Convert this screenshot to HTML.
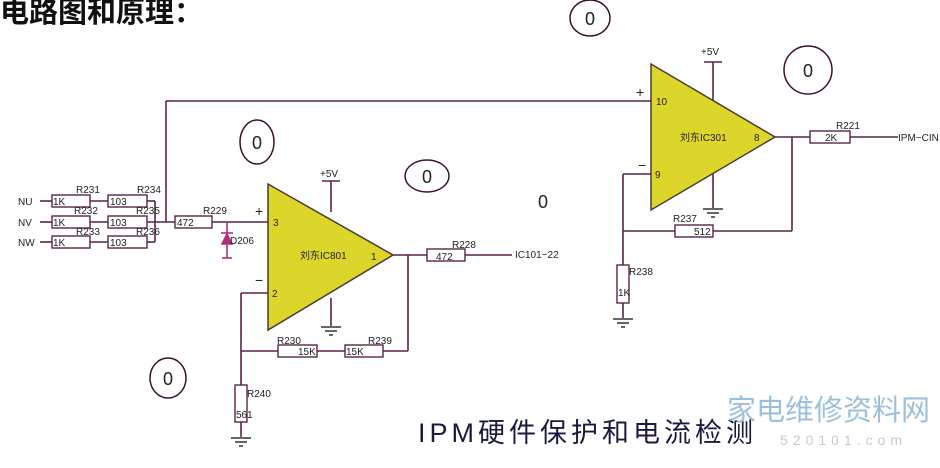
<!DOCTYPE html>
<html><head><meta charset="utf-8"><style>
html,body{margin:0;padding:0;background:#fff;width:940px;height:468px;overflow:hidden}
svg{display:block}
text{font-family:"Liberation Sans","Noto Sans CJK SC",sans-serif}
</style></head><body>
<svg width="940" height="468" viewBox="0 0 940 468" xmlns="http://www.w3.org/2000/svg">
<rect width="940" height="468" fill="#fff"/>
<text x="0" y="22" font-size="29" font-weight="bold" fill="#111" font-family="'Noto Sans CJK SC',sans-serif">电路图和原理：</text>

<g stroke="#5a2448" stroke-width="1.6" fill="none">
<line x1="40" y1="201" x2="52" y2="201"/><line x1="90" y1="201" x2="108" y2="201"/><line x1="147" y1="201" x2="155" y2="201"/>
<line x1="40" y1="222" x2="52" y2="222"/><line x1="90" y1="222" x2="108" y2="222"/><line x1="147" y1="222" x2="175" y2="222"/>
<line x1="40" y1="242" x2="52" y2="242"/><line x1="90" y1="242" x2="108" y2="242"/><line x1="147" y1="242" x2="155" y2="242"/>
<line x1="155" y1="201" x2="155" y2="242"/>
<line x1="166" y1="101" x2="166" y2="222"/>
<line x1="166" y1="101" x2="651" y2="101"/>
<line x1="212" y1="222" x2="268" y2="222"/>
<line x1="331" y1="181" x2="331" y2="212"/><line x1="322" y1="181" x2="340" y2="181"/>
<line x1="331" y1="298" x2="331" y2="326"/>
<line x1="393" y1="255" x2="427" y2="255"/><line x1="465" y1="255" x2="512" y2="255"/>
<line x1="408" y1="255" x2="408" y2="351"/>
<line x1="241" y1="351" x2="278" y2="351"/><line x1="317" y1="351" x2="345" y2="351"/><line x1="383" y1="351" x2="408" y2="351"/>
<line x1="241" y1="293" x2="268" y2="293"/>
<line x1="241" y1="293" x2="241" y2="385"/><line x1="241" y1="422" x2="241" y2="437"/>
<line x1="713" y1="62" x2="713" y2="100"/><line x1="704" y1="62" x2="722" y2="62"/>
<line x1="713" y1="172" x2="713" y2="208"/>
<line x1="775" y1="137" x2="810" y2="137"/><line x1="850" y1="137" x2="898" y2="137"/>
<line x1="792" y1="137" x2="792" y2="231"/>
<line x1="623" y1="231" x2="675" y2="231"/><line x1="713" y1="231" x2="792" y2="231"/>
<line x1="623" y1="174" x2="651" y2="174"/>
<line x1="623" y1="174" x2="623" y2="265"/><line x1="623" y1="303" x2="623" y2="318"/>
</g>
<g stroke="#333" stroke-width="1.5">
<line x1="321" y1="327" x2="341" y2="327"/><line x1="325" y1="331" x2="337" y2="331"/><line x1="329" y1="335" x2="333" y2="335"/>
<line x1="703" y1="209" x2="723" y2="209"/><line x1="707" y1="213" x2="719" y2="213"/><line x1="711" y1="217" x2="715" y2="217"/>
<line x1="231" y1="438" x2="251" y2="438"/><line x1="235" y1="442" x2="247" y2="442"/><line x1="239" y1="446" x2="243" y2="446"/>
<line x1="613" y1="319" x2="633" y2="319"/><line x1="617" y1="323" x2="629" y2="323"/><line x1="621" y1="327" x2="625" y2="327"/>
</g>
<g stroke="#5a2448" stroke-width="1.4" fill="#fff">
<rect x="52" y="195" width="38" height="12"/><rect x="108" y="195" width="39" height="12"/>
<rect x="52" y="216" width="38" height="12"/><rect x="108" y="216" width="39" height="12"/>
<rect x="52" y="236" width="38" height="12"/><rect x="108" y="236" width="39" height="12"/>
<rect x="175" y="216" width="37" height="12"/>
<rect x="427" y="249" width="38" height="12"/>
<rect x="278" y="345" width="39" height="12"/><rect x="345" y="345" width="38" height="12"/>
<rect x="235" y="385" width="12" height="37"/>
<rect x="810" y="131" width="40" height="12"/>
<rect x="675" y="225" width="38" height="12"/>
<rect x="617" y="265" width="12" height="38"/>
</g>
<g stroke="#b0307a" stroke-width="1.6" fill="#b0307a">
<line x1="227" y1="222" x2="227" y2="258"/>
<polygon points="222,244 232,244 227,234"/><line x1="221" y1="233" x2="233" y2="233"/>
<line x1="222" y1="258" x2="232" y2="258"/>
</g>
<polygon points="268,184 268,330 393,255" fill="#dcd62a" stroke="#4a3a30" stroke-width="1.5"/>
<polygon points="651,64 651,210 775,137" fill="#dcd62a" stroke="#4a3a30" stroke-width="1.5"/>

<g font-size="10" fill="#222">
<text x="18" y="205">NU</text><text x="18" y="226">NV</text><text x="18" y="246">NW</text>
<text x="53" y="205">1K</text><text x="110" y="205">103</text>
<text x="53" y="226">1K</text><text x="110" y="226">103</text>
<text x="53" y="246">1K</text><text x="110" y="246">103</text>
<text x="76" y="193">R231</text><text x="137" y="193">R234</text>
<text x="74" y="214">R232</text><text x="136" y="214">R235</text>
<text x="76" y="235">R233</text><text x="136" y="235">R236</text>
<text x="177" y="226">472</text><text x="203" y="214">R229</text>
<text x="230" y="244">D206</text>
<text x="320" y="177">+5V</text>
<text x="255" y="216" font-size="14">+</text><text x="273" y="226">3</text>
<text x="255" y="285" font-size="14">−</text><text x="272" y="297">2</text>
<text x="300" y="259">刘东IC801</text><text x="371" y="260">1</text>
<text x="452" y="248">R228</text><text x="436" y="260">472</text>
<text x="515" y="258">IC101−22</text>
<text x="277" y="344">R230</text><text x="298" y="355">15K</text>
<text x="368" y="344">R239</text><text x="346" y="355">15K</text>
<text x="247" y="397">R240</text><text x="236" y="418">561</text>
<text x="701" y="55">+5V</text>
<text x="636" y="97" font-size="14">+</text><text x="656" y="105">10</text>
<text x="638" y="170" font-size="14">−</text><text x="655" y="178">9</text>
<text x="680" y="141">刘东IC301</text><text x="754" y="141">8</text>
<text x="836" y="129">R221</text><text x="825" y="141">2K</text>
<text x="898" y="141">IPM−CIN</text>
<text x="673" y="222">R237</text><text x="694" y="235">512</text>
<text x="629" y="275">R238</text><text x="618" y="296">1K</text>
</g>
<g fill="none" stroke="#3a1030" stroke-width="1.5">
<ellipse cx="590" cy="18" rx="20" ry="18"/>
<circle cx="808" cy="70" r="24"/>
<ellipse cx="257" cy="142" rx="17" ry="22"/>
<ellipse cx="427" cy="176" rx="22" ry="16"/>
<ellipse cx="168" cy="378" rx="18" ry="20"/>
</g>
<g font-size="18" fill="#222" text-anchor="middle">
<text x="590" y="25">0</text><text x="808" y="77">0</text><text x="257" y="149">0</text>
<text x="427" y="183">0</text><text x="543" y="208">0</text><text x="168" y="385">0</text>
</g>
<text x="418" y="442" font-size="27" letter-spacing="4" fill="#1a1a40" font-family="'Noto Serif CJK SC',serif">IPM硬件保护和电流检测</text>
<text x="727" y="420" font-size="29" fill="#9cc0dc" font-family="'Noto Sans CJK SC',sans-serif">家电维修资料网</text>
<text x="780" y="445" font-size="14" fill="#c9c9c9" letter-spacing="5">520101.com</text>
</svg>
</body></html>
